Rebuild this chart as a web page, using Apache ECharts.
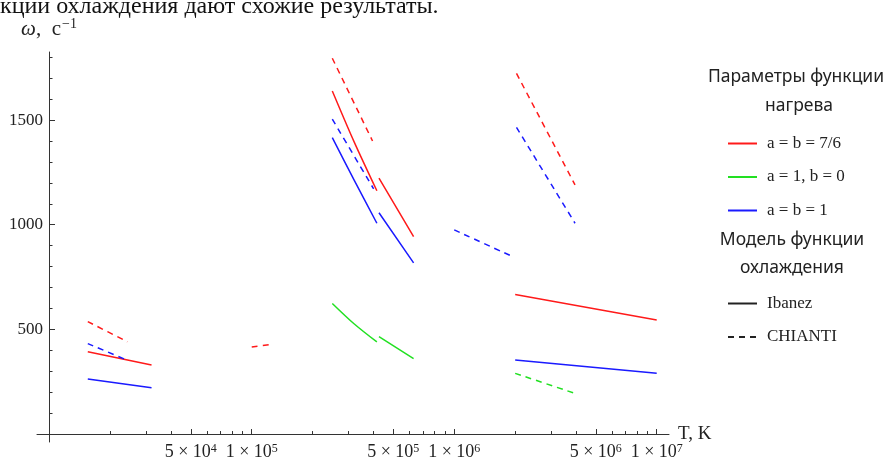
<!DOCTYPE html>
<html>
<head>
<meta charset="utf-8">
<script src="https://cdn.jsdelivr.net/npm/echarts@6/dist/echarts.min.js"></script>
<style>
    html, body { margin: 0; padding: 0; background: #fff; }
    #chart { width: 890px; height: 457px; }
</style>
</head>
<body>
<div id="chart"></div>
<script>
// each series is a list of separate segments, points are [T, omega]
var redSolid = [
    [[1.55e4, 393], [3.2e4, 330]],
    [[2.5e5, 1639], [3.2e5, 1397], [4.15e5, 1162]],
    [[4.25e5, 1223], [6.3e5, 943]],
    [[2.0e6, 667], [1.0e7, 545]]
];
var redDashed = [
    [[1.55e4, 537], [2.43e4, 441]],
    [[1.0e5, 416], [1.22e5, 427]],
    [[2.5e5, 1795], [3.95e5, 1400]],
    [[2.03e6, 1723], [3.95e6, 1190]]
];
var greenSolid = [
    [[2.5e5, 624], [3.2e5, 527], [4.15e5, 440]],
    [[4.25e5, 465], [6.3e5, 360]]
];
var greenDashed = [
    [[2.0e6, 290], [3.95e6, 194]]
];
var blueSolid = [
    [[1.55e4, 263], [3.2e4, 221]],
    [[2.5e5, 1416], [3.2e5, 1214], [4.15e5, 1007]],
    [[4.25e5, 1057], [6.3e5, 818]],
    [[2.0e6, 354], [1.0e7, 290]]
];
var blueDashed = [
    [[1.55e4, 432], [2.45e4, 351]],
    [[2.5e5, 1504], [4.0e5, 1171]],
    [[1.0e6, 975], [1.95e6, 847]],
    [[2.03e6, 1465], [3.95e6, 1007]]
];

var xMajor = [5e4, 1e5, 5e5, 1e6, 5e6, 1e7];
var xMinor = [2e4, 3e4, 4e4, 6e4, 7e4, 8e4, 9e4,
    2e5, 3e5, 4e5, 6e5, 7e5, 8e5, 9e5,
    2e6, 3e6, 4e6, 6e6, 7e6, 8e6, 9e6];
var yMajor = [500, 1000, 1500];
var yMinor = [100, 200, 300, 400, 600, 700, 800, 900, 1100, 1200, 1300, 1400, 1600, 1700, 1800];

var heatNames = ["a = b = 7/6", "a = 1, b = 0", "a = b = 1"];
var coolNames = ["Ibanez", "CHIANTI"];

var RED = "#ff1a1a", GREEN = "#22e022", BLUE = "#1a1aff";
var SERIF = "'Liberation Serif', 'DejaVu Serif', serif";
var SANS = "'Noto Sans', 'Open Sans', sans-serif";

function join(segs) {
    var out = [];
    segs.forEach(function(s, i) {
        if (i > 0) out.push(null);
        s.forEach(function(p) { out.push(p); });
    });
    return out;
}

function line(name, color, dashed, segs) {
    return {
        name: name,
        type: "line",
        symbol: "none",
        smooth: 0.3,
        connectNulls: false,
        lineStyle: { color: color, width: 1.5, type: dashed ? [6, 5] : "solid" },
        itemStyle: { color: color },
        data: join(segs)
    };
}

function powLabel(v) {
    var e = Math.floor(Math.log10(v) + 1e-9);
    var m = Math.round(v / Math.pow(10, e));
    return "{b|" + m + " × 10}{s|" + e + "}";
}

var legendBase = {
    orient: "vertical",
    left: 722,
    itemWidth: 29,
    itemHeight: 14,
    itemGap: 16.5,
    selectedMode: false,
    itemStyle: { color: "rgba(0,0,0,0)", borderColor: "rgba(0,0,0,0)", borderWidth: 0 },
    textStyle: { fontFamily: SERIF, fontSize: 17, color: "#222", padding: [0, 0, 0, 5] }
};

var chart = echarts.init(document.getElementById("chart"));
chart.setOption({
    animation: false,
    backgroundColor: "#fff",
    grid: {
        left: 37, right: 221, top: 52, bottom: 15,
        containLabel: false,
        outerBoundsMode: "none"
    },
    xAxis: [{
        type: "log",
        min: 8700,
        max: 11.5e6,
        name: "T, K",
        nameLocation: "end",
        nameGap: 9,
        nameMoveOverlap: false,
        nameTextStyle: { fontFamily: SERIF, fontSize: 19, color: "#222", verticalAlign: "middle" },
        axisLine: { onZero: true, lineStyle: { color: "#333", width: 1 } },
        axisTick: { inside: true, length: 5, customValues: xMajor, lineStyle: { color: "#333" } },
        axisLabel: {
            customValues: xMajor,
            margin: 1,
            formatter: powLabel,
            rich: {
                b: { fontFamily: SERIF, fontSize: 18, lineHeight: 18, color: "#222" },
                s: { fontFamily: SERIF, fontSize: 12, lineHeight: 12, color: "#222", verticalAlign: "top", padding: [0, 0, 6, 0] }
            }
        },
        splitLine: { show: false }
    }, {
        type: "log",
        min: 8700,
        max: 11.5e6,
        position: "bottom",
        axisLine: { show: false, onZero: true },
        axisTick: { inside: true, length: 3, customValues: xMinor, lineStyle: { color: "#333" } },
        axisLabel: { show: false },
        splitLine: { show: false }
    }],
    yAxis: [{
        type: "value",
        min: -38,
        max: 1825,
        offset: -12,
        name: "{i|ω}{r|,  c}{s|−1}",
        nameLocation: "end",
        nameGap: 11,
        nameMoveOverlap: false,
        nameTextStyle: {
            rich: {
                i: { fontFamily: SERIF, fontSize: 21, fontStyle: "italic", color: "#222" },
                r: { fontFamily: SERIF, fontSize: 21, color: "#222" },
                s: { fontFamily: SERIF, fontSize: 14, color: "#222", verticalAlign: "top", padding: [0, 0, 10, 1] }
            }
        },
        axisLine: { show: true, onZero: false, lineStyle: { color: "#333", width: 1 } },
        axisTick: { show: true, inside: true, length: 6, customValues: yMajor, lineStyle: { color: "#333" } },
        axisLabel: {
            customValues: yMajor,
            margin: 6,
            fontFamily: SERIF,
            fontSize: 17,
            color: "#222",
            formatter: function(v) { return String(v); }
        },
        splitLine: { show: false }
    }, {
        type: "value",
        min: -38,
        max: 1825,
        position: "left",
        offset: -12,
        axisLine: { show: false, onZero: false },
        axisTick: { show: true, inside: true, length: 3.5, customValues: yMinor, lineStyle: { color: "#333" } },
        axisLabel: { show: false },
        splitLine: { show: false }
    }],
    legend: [
        Object.assign({}, legendBase, { data: heatNames, top: 130 }),
        Object.assign({}, legendBase, { data: coolNames, top: 290 })
    ],
    graphic: [
        { type: "text", left: 0, top: -5, style: { text: "кции охлаждения дают схожие результаты.", font: "24px " + SERIF, fill: "#111" } },
        { type: "text", x: 796, y: 77, style: { text: "Параметры функции", font: "17.5px " + SANS, fill: "#222", align: "center", verticalAlign: "middle" } },
        { type: "text", x: 799, y: 106, style: { text: "нагрева", font: "17.5px " + SANS, fill: "#222", align: "center", verticalAlign: "middle" } },
        { type: "text", x: 792, y: 240, style: { text: "Модель функции", font: "17.5px " + SANS, fill: "#222", align: "center", verticalAlign: "middle" } },
        { type: "text", x: 792, y: 268, style: { text: "охлаждения", font: "17.5px " + SANS, fill: "#222", align: "center", verticalAlign: "middle" } }
    ],
    series: [
        line(heatNames[0], RED, false, redSolid),
        line(heatNames[0], RED, true, redDashed),
        line(heatNames[1], GREEN, false, greenSolid),
        line(heatNames[1], GREEN, true, greenDashed),
        line(heatNames[2], BLUE, false, blueSolid),
        line(heatNames[2], BLUE, true, blueDashed),
        line(coolNames[0], "#222", false, []),
        line(coolNames[1], "#222", true, [])
    ]
});
</script>
</body>
</html>
